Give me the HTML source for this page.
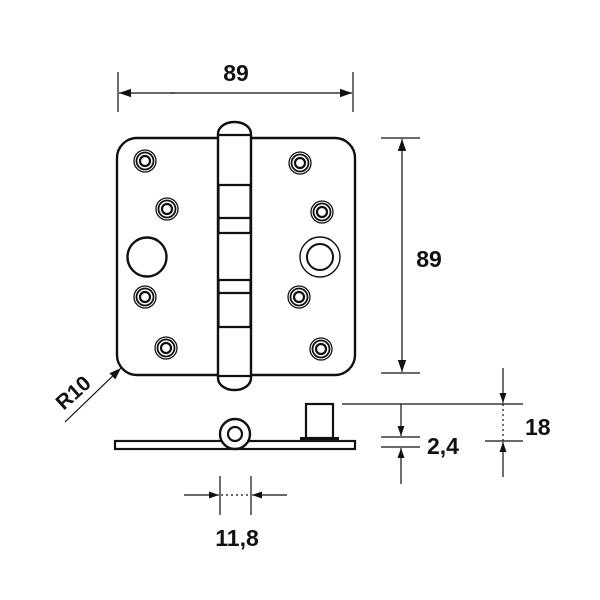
<!DOCTYPE html>
<html><head><style>body{margin:0;background:#fff}svg{display:block}</style></head><body>
<svg width="600" height="600" viewBox="0 0 600 600" xmlns="http://www.w3.org/2000/svg" font-family="Liberation Sans, sans-serif" font-weight="bold">
<defs>
<marker id="a" viewBox="0 0 10 10" refX="10" refY="5" markerWidth="10" markerHeight="10" markerUnits="userSpaceOnUse" orient="auto"><path d="M0,1.5 L10,5 L0,8.5z" fill="#111"/></marker>
<marker id="b" viewBox="0 0 10 10" refX="10" refY="5" markerWidth="12" markerHeight="12" markerUnits="userSpaceOnUse" orient="auto"><path d="M0,1.5 L10,5 L0,8.5z" fill="#111"/></marker>
</defs>
<g stroke="#111" fill="none" stroke-width="1.2">
<line x1="118" y1="72" x2="118" y2="112"/><line x1="353" y1="72" x2="353" y2="112"/>
<line x1="175" y1="93" x2="119" y2="93" marker-end="url(#b)"/><line x1="300" y1="93" x2="352" y2="93" marker-end="url(#b)"/><line x1="170" y1="93" x2="300" y2="93"/>
<line x1="381" y1="138" x2="420" y2="138"/><line x1="381" y1="373" x2="420" y2="373"/>
<line x1="402" y1="255" x2="402" y2="139" marker-end="url(#b)"/><line x1="402" y1="255" x2="402" y2="372" marker-end="url(#b)"/>
<line x1="65" y1="422" x2="121" y2="368" marker-end="url(#b)"/>
</g>
<text x="236" y="81" font-size="23" text-anchor="middle" fill="#111">89</text>
<text x="429" y="267" font-size="23" text-anchor="middle" fill="#111">89</text>
<text x="0" y="0" font-size="21" text-anchor="middle" fill="#111" transform="translate(78,398) rotate(-42)">R10</text>
<g stroke="#111" fill="none">
<rect x="117" y="138" width="238" height="237" rx="20" stroke-width="2.4"/>
<rect x="218" y="122" width="33" height="268" rx="16" ry="12" fill="#fff" stroke-width="2.4"/>
<g stroke-width="2.2">
<line x1="219" y1="135" x2="251" y2="135"/><line x1="219" y1="376" x2="251" y2="376"/>
<line x1="218" y1="185" x2="251" y2="185"/><line x1="218" y1="218" x2="251" y2="218"/><line x1="218" y1="233" x2="251" y2="233"/>
<line x1="218" y1="280" x2="251" y2="280"/><line x1="218" y1="293" x2="251" y2="293"/><line x1="218" y1="327" x2="251" y2="327"/>
<line x1="218.5" y1="185" x2="218.5" y2="233"/><line x1="250.5" y1="185" x2="250.5" y2="233"/>
<line x1="218.5" y1="280" x2="218.5" y2="327"/><line x1="250.5" y1="280" x2="250.5" y2="327"/>
</g>
<g stroke-width="1.3">
<circle cx="145" cy="161" r="11"/><circle cx="145" cy="161" r="8.5" stroke-width="1.8"/><circle cx="145" cy="161" r="5" stroke-width="2.2"/>
<circle cx="167" cy="209" r="11"/><circle cx="167" cy="209" r="8.5" stroke-width="1.8"/><circle cx="167" cy="209" r="5" stroke-width="2.2"/>
<circle cx="145" cy="297" r="11"/><circle cx="145" cy="297" r="8.5" stroke-width="1.8"/><circle cx="145" cy="297" r="5" stroke-width="2.2"/>
<circle cx="166" cy="348" r="11"/><circle cx="166" cy="348" r="8.5" stroke-width="1.8"/><circle cx="166" cy="348" r="5" stroke-width="2.2"/>
<circle cx="300" cy="163" r="11"/><circle cx="300" cy="163" r="8.5" stroke-width="1.8"/><circle cx="300" cy="163" r="5" stroke-width="2.2"/>
<circle cx="322" cy="212" r="11"/><circle cx="322" cy="212" r="8.5" stroke-width="1.8"/><circle cx="322" cy="212" r="5" stroke-width="2.2"/>
<circle cx="299" cy="297" r="11"/><circle cx="299" cy="297" r="8.5" stroke-width="1.8"/><circle cx="299" cy="297" r="5" stroke-width="2.2"/>
<circle cx="321" cy="349" r="11"/><circle cx="321" cy="349" r="8.5" stroke-width="1.8"/><circle cx="321" cy="349" r="5" stroke-width="2.2"/>
</g>
<circle cx="147" cy="257" r="19.5" stroke-width="2.4"/>
<circle cx="320" cy="257" r="20" stroke-width="1.4"/><circle cx="320" cy="257" r="13" stroke-width="2"/>
</g>
<g stroke="#111" fill="none">
<rect x="115" y="441" width="240" height="8" stroke-width="2.2" fill="#fff"/>
<circle cx="235" cy="434" r="15" stroke-width="2.4" fill="#fff"/><circle cx="235" cy="434" r="7" stroke-width="2.2"/>
<rect x="306" y="404" width="27" height="34" stroke-width="2.2" fill="#fff"/>
<rect x="300" y="437" width="39" height="4" fill="#111" stroke="none"/>
</g>
<g stroke="#111" fill="none" stroke-width="1.2">
<line x1="342" y1="404" x2="523" y2="404"/>
<line x1="503" y1="368" x2="503" y2="403" marker-end="url(#a)"/>
<line x1="503" y1="404" x2="503" y2="441" stroke-dasharray="2,3"/>
<line x1="503" y1="477" x2="503" y2="442" marker-end="url(#a)"/>
<line x1="485" y1="441" x2="523" y2="441"/>
<line x1="401" y1="404" x2="401" y2="436" marker-end="url(#a)"/>
<line x1="381" y1="437" x2="420" y2="437"/><line x1="381" y1="447" x2="420" y2="447"/>
<line x1="401" y1="484" x2="401" y2="448" marker-end="url(#a)"/>
<line x1="220" y1="476" x2="220" y2="515"/><line x1="251" y1="476" x2="251" y2="515"/>
<line x1="184" y1="495" x2="219" y2="495" marker-end="url(#a)"/>
<line x1="287" y1="495" x2="252" y2="495" marker-end="url(#a)"/>
<line x1="221" y1="495" x2="250" y2="495" stroke-dasharray="2,3"/>
</g>
<text x="525" y="435" font-size="23" fill="#111">18</text>
<text x="427" y="454" font-size="23" fill="#111">2,4</text>
<text x="237" y="546" font-size="23" text-anchor="middle" fill="#111">11,8</text>
</svg>
</body></html>
